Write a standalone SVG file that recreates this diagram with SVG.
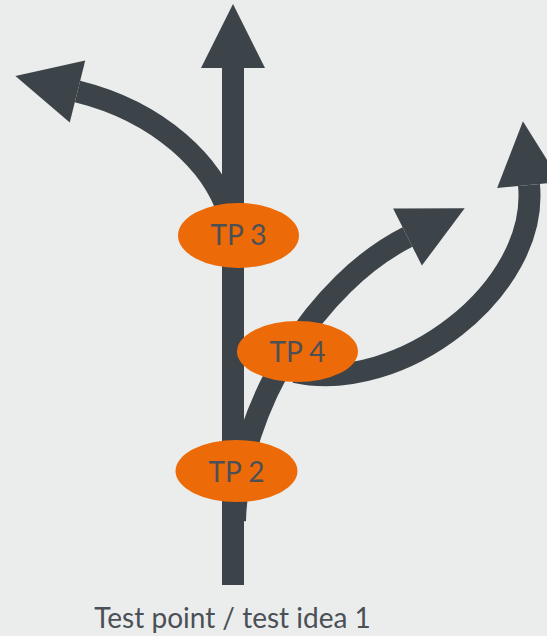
<svg xmlns="http://www.w3.org/2000/svg" width="547" height="636" viewBox="0 0 547 636">
<style>
.c{fill:none;stroke:#3c4449;stroke-width:22}
.n{fill:#ec6b08}
.t{font-family:Lato,"Noto Sans","Liberation Sans",sans-serif;font-size:28px;fill:#4a5056;text-anchor:middle}
</style>
<defs>
<marker id="ah" markerUnits="userSpaceOnUse" markerWidth="66" markerHeight="66" viewBox="0 -33 66 66" refX="0" refY="0" orient="auto" overflow="visible">
<path d="M0,-32 L64,0 L0,32 Z" fill="#3c4449"/>
</marker>
</defs>
<rect width="547" height="636" fill="#ebedec"/>
<g id="connectors">
<path class="c" d="M233 585 V68" marker-end="url(#ah)"/>
<path class="c" d="M229 215 C214 165 160 112 77.5 91.5" marker-end="url(#ah)"/>
<path class="c" d="M235 521 C238 405 318 282 407.5 237" marker-end="url(#ah)"/>
<path class="c" d="M295 372 C400 395 539 290 529 185" marker-end="url(#ah)"/>
</g>
<g id="tp3"><ellipse class="n" cx="238.5" cy="235.5" rx="60.5" ry="32.5"/><text class="t" x="238.5" y="245">TP 3</text></g>
<g id="tp4"><ellipse class="n" cx="297.5" cy="351.5" rx="60.5" ry="30.5"/><text class="t" x="297.5" y="362">TP 4</text></g>
<g id="tp2"><ellipse class="n" cx="236.5" cy="471" rx="61" ry="31"/><text class="t" x="236.5" y="481.5">TP 2</text></g>
<g id="caption"><text class="t" x="232.5" y="628">Test point / test idea 1</text></g>
</svg>
